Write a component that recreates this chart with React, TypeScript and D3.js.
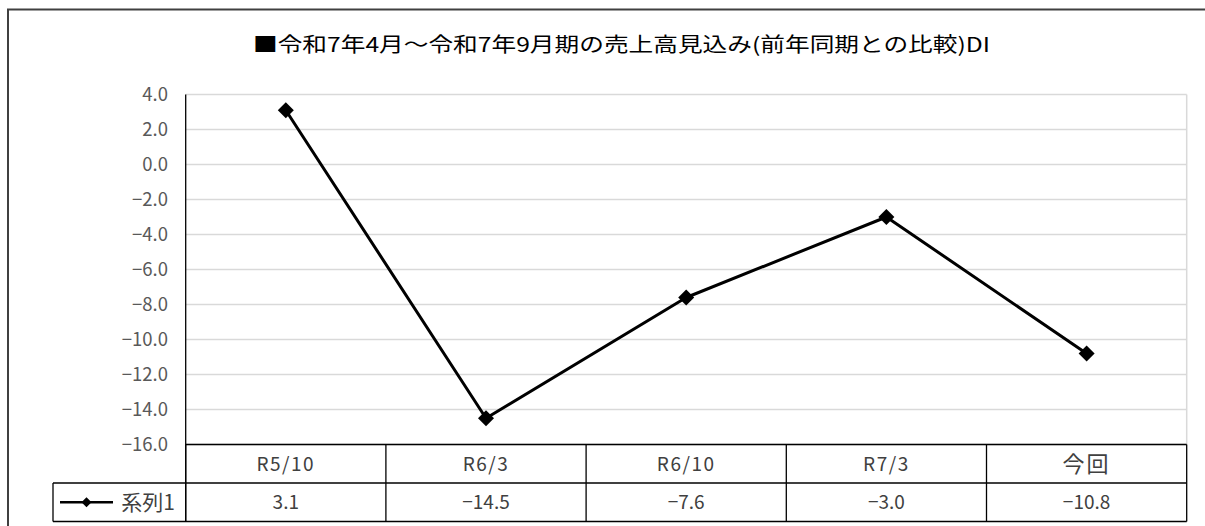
import React from "react";
import * as d3 from "d3";

const categories = ["R5/10", "R6/3", "R6/10", "R7/3", "今回"];
const values = [3.1, -14.5, -7.6, -3.0, -10.8];
const valueLabels = ["3.1", "−14.5", "−7.6", "−3.0", "−10.8"];
const yTicks = [4, 2, 0, -2, -4, -6, -8, -10, -12, -14, -16];
const seriesName = "系列1";
const title = "■令和7年4月～令和7年9月期の売上高見込み(前年同期との比較)DI";

const W = 1205;
const H = 526;
const plotLeft = 185.7;
const plotRight = 1186.7;
const plotTop = 94.5;
const plotBottom = 444.5;
const row1Bottom = 483;
const row2Bottom = 521.5;
const legendLeft = 53;

const fontJP = "'Noto Sans CJK JP', 'Noto Sans', sans-serif";

function fmt(v: number) {
  const s = Math.abs(v).toFixed(1);
  return v < 0 ? "−" + s : s;
}

export default function App() {
  const x = d3.scaleBand<string>().domain(categories).range([plotLeft, plotRight]).padding(0);
  const y = d3.scaleLinear().domain([-16, 4]).range([plotBottom, plotTop]);
  const cx = (c: string) => (x(c) as number) + x.bandwidth() / 2;
  const line = d3
    .line<number>()
    .x((_, i) => cx(categories[i]))
    .y((d) => y(d));
  const diamond = (px: number, py: number, r: number) =>
    `M${px},${py - r}L${px + r},${py}L${px},${py + r}L${px - r},${py}Z`;

  const bounds = [plotLeft, ...categories.map((c) => (x(c) as number) + x.bandwidth())];
  const r2 = (row1Bottom + row2Bottom) / 2;
  const r1 = (plotBottom + row1Bottom) / 2;
  const isCJK = (s: string) => /[^\x00-\x7f]/.test(s);

  return (
    <svg width={W} height={H} style={{ position: "absolute", left: 0, top: 0, background: "#fff" }}>
      <rect x={0} y={0} width={W} height={H} fill="#fff" />
      {/* outer frame */}
      <rect x={8} y={9.5} width={1300} height={700} fill="none" stroke="#404040" strokeWidth={2} />
      {/* title */}
      <text
        x={253}
        y={52}
        textAnchor="start"
        fontFamily={fontJP}
        fontSize={20}
        fill="#000"
        textLength={737}
        lengthAdjust="spacingAndGlyphs"
      >
        {title}
      </text>
      {/* gridlines */}
      {yTicks.map((t) => (
        <line key={t} x1={plotLeft} x2={plotRight} y1={y(t)} y2={y(t)} stroke="#d9d9d9" strokeWidth={1.3} />
      ))}
      {/* plot right border */}
      <line x1={plotRight} x2={plotRight} y1={plotTop} y2={plotBottom} stroke="#d9d9d9" strokeWidth={1.5} />
      {/* y tick labels */}
      {yTicks.map((t) => (
        <text
          key={"l" + t}
          x={168}
          y={y(t)}
          dy="0.36em"
          textAnchor="end"
          fontFamily={fontJP}
          fontSize={18.5}
          fill="#595959"
        >
          {fmt(t)}
        </text>
      ))}
      {/* y axis line */}
      <line x1={plotLeft} x2={plotLeft} y1={plotTop} y2={row2Bottom} stroke="#000" strokeWidth={1.3} />
      {/* data table */}
      <line x1={plotLeft} x2={plotRight} y1={plotBottom} y2={plotBottom} stroke="#000" strokeWidth={1.3} />
      <line x1={legendLeft} x2={plotRight} y1={row1Bottom} y2={row1Bottom} stroke="#000" strokeWidth={1.3} />
      <line x1={legendLeft} x2={plotRight} y1={row2Bottom} y2={row2Bottom} stroke="#000" strokeWidth={1.3} />
      <line x1={legendLeft} x2={legendLeft} y1={row1Bottom} y2={row2Bottom} stroke="#000" strokeWidth={1.3} />
      {bounds.map((b, i) => (
        <line key={"b" + i} x1={b} x2={b} y1={plotBottom} y2={row2Bottom} stroke="#000" strokeWidth={1.3} />
      ))}
      {categories.map((c) => (
        <text
          key={"c" + c}
          x={cx(c)}
          y={r1}
          dy="0.36em"
          textAnchor="middle"
          fontFamily={fontJP}
          fontSize={isCJK(c) ? 22 : 19}
          letterSpacing={isCJK(c) ? 2 : 1.5}
          fill="#404040"
        >
          {c}
        </text>
      ))}
      {categories.map((c, i) => (
        <text
          key={"v" + c}
          x={cx(c)}
          y={r2}
          dy="0.36em"
          textAnchor="middle"
          fontFamily={fontJP}
          fontSize={19}
          fill="#404040"
        >
          {valueLabels[i]}
        </text>
      ))}
      {/* legend key */}
      <line x1={60} x2={113} y1={r2} y2={r2} stroke="#000" strokeWidth={2.6} />
      <path d={diamond(86.5, r2, 5)} fill="#000" />
      <text x={175} y={r2} dy="0.36em" textAnchor="end" fontFamily={fontJP} fontSize={21} fill="#404040">
        {seriesName}
      </text>
      {/* series line */}
      <path d={line(values) || ""} fill="none" stroke="#000" strokeWidth={3} strokeLinejoin="round" />
      {values.map((v, i) => (
        <path key={"m" + i} d={diamond(cx(categories[i]), y(v), 8)} fill="#000" />
      ))}
    </svg>
  );
}
